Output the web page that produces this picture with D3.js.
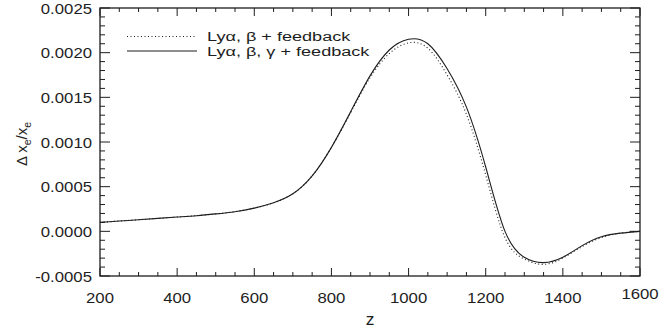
<!DOCTYPE html>
<html>
<head>
<meta charset="utf-8">
<script src="https://cdn.jsdelivr.net/npm/d3@7"></script>
<style>
  html, body { margin: 0; padding: 0; background: #fff; }
  svg { display: block; font-family: "Liberation Sans", Arial, Helvetica, sans-serif; }
</style>
</head>
<body>
<svg id="chart" width="660" height="333"></svg>
<script>
// ---- data ----
const zValues = [200, 250, 300, 350, 400, 450, 500, 550, 600, 650, 700, 750, 800, 850, 900, 950, 1000, 1050, 1100, 1150, 1200, 1250, 1300, 1350, 1400, 1450, 1500, 1550, 1600];
const seriesBeta = [0.00010, 0.000115, 0.00013, 0.000145, 0.00016, 0.000175, 0.000195, 0.00022, 0.00026, 0.00032, 0.00042, 0.00062, 0.00094, 0.00133, 0.00172, 0.00199, 0.00211, 0.00205, 0.00175, 0.00131, 0.00063, -0.00007, -0.00031, -0.00037, -0.00030, -0.00017, -0.00007, -0.00002, 0.0];
const seriesBetaGamma = [0.00010, 0.000115, 0.00013, 0.000145, 0.00016, 0.000175, 0.000195, 0.00022, 0.00026, 0.00032, 0.00042, 0.00062, 0.00094, 0.00134, 0.00174, 0.00203, 0.00215, 0.00210, 0.00182, 0.00139, 0.00072, 0.00000, -0.00029, -0.00035, -0.00029, -0.00016, -0.00006, -0.00002, 0.0];
const seriesNames = ["Ly\u03b1, \u03b2 + feedback", "Ly\u03b1, \u03b2, \u03b3 + feedback"];
const xTicks = [200, 400, 600, 800, 1000, 1200, 1400, 1600];
const yTicks = [-0.0005, 0.0000, 0.0005, 0.0010, 0.0015, 0.0020, 0.0025];

// ---- layout ----
const svg = d3.select("#chart");
const L = 100, R = 640, T = 8, B = 276;
const x = d3.scaleLinear().domain([200, 1600]).range([L, R]);
const y = d3.scaleLinear().domain([-0.0005, 0.0025]).range([B, T]);
const ink = "#1e1e1e";

// minor ticks
const xMinor = d3.range(200, 1601, 50).filter(v => v % 200 !== 0);
const yMinor = d3.range(-5, 26, 1).filter(v => v % 5 !== 0).map(v => v / 10000);

const axes = svg.append("g").attr("stroke", ink).attr("stroke-width", 1);
xTicks.forEach(v => {
  axes.append("line").attr("x1", x(v)).attr("x2", x(v)).attr("y1", B).attr("y2", B - 8);
  axes.append("line").attr("x1", x(v)).attr("x2", x(v)).attr("y1", T).attr("y2", T + 8);
});
xMinor.forEach(v => {
  axes.append("line").attr("x1", x(v)).attr("x2", x(v)).attr("y1", B).attr("y2", B - 4);
  axes.append("line").attr("x1", x(v)).attr("x2", x(v)).attr("y1", T).attr("y2", T + 4);
});
yTicks.forEach(v => {
  axes.append("line").attr("x1", L).attr("x2", L + 10).attr("y1", y(v)).attr("y2", y(v));
  axes.append("line").attr("x1", R).attr("x2", R - 10).attr("y1", y(v)).attr("y2", y(v));
});
yMinor.forEach(v => {
  axes.append("line").attr("x1", L).attr("x2", L + 5).attr("y1", y(v)).attr("y2", y(v));
  axes.append("line").attr("x1", R).attr("x2", R - 5).attr("y1", y(v)).attr("y2", y(v));
});
svg.append("rect").attr("x", L).attr("y", T).attr("width", R - L).attr("height", B - T)
  .attr("fill", "none").attr("stroke", ink).attr("stroke-width", 1.3);

// tick labels (slightly wide type, as in the reference)
svg.append("g").selectAll("text").data(xTicks).join("text")
  .attr("transform", (d, i) => `translate(${x(d)},${B + 27 - (i === xTicks.length - 1 ? 4 : 0)}) scale(1.08,1)`)
  .attr("text-anchor", "middle")
  .attr("font-size", 15.5).attr("fill", ink).text(d => d);
svg.append("g").selectAll("text").data(yTicks).join("text")
  .attr("transform", d => `translate(${L - 8},${y(d) + 5.5}) scale(1.08,1)`)
  .attr("text-anchor", "end")
  .attr("font-size", 15.5).attr("fill", ink).text(d => d3.format(".4f")(d).replace("\u2212", "-"));

// axis titles
svg.append("text").attr("transform", `translate(${(L + R) / 2},325) scale(1.08,1)`).attr("text-anchor", "middle")
  .attr("font-size", 16).attr("fill", ink).text("z");
const yl = svg.append("text").attr("transform", `translate(27,${(T + B) / 2 + 2}) rotate(-90)`)
  .attr("text-anchor", "middle").attr("font-size", 15).attr("fill", ink);
yl.append("tspan").text("\u0394 x");
yl.append("tspan").attr("font-size", 10.5).attr("dy", 4).text("e");
yl.append("tspan").attr("dy", -4).text("/x");
yl.append("tspan").attr("font-size", 10.5).attr("dy", 4).text("e");

// lines
const line = d3.line().x((d, i) => x(zValues[i])).y(d => y(d)).curve(d3.curveNatural);
svg.append("clipPath").attr("id", "clip").append("rect")
  .attr("x", L).attr("y", T).attr("width", R - L).attr("height", B - T);
const plot = svg.append("g").attr("clip-path", "url(#clip)");
plot.append("path").datum(seriesBeta).attr("d", line).attr("fill", "none")
  .attr("stroke", ink).attr("stroke-width", 1.1).attr("stroke-dasharray", "1,2.5");
plot.append("path").datum(seriesBetaGamma).attr("d", line).attr("fill", "none")
  .attr("stroke", ink).attr("stroke-width", 1.1);

// legend
const leg = svg.append("g");
[[36.5, "1,2.5"], [51, null]].forEach((d, i) => {
  leg.append("line").attr("x1", 127).attr("x2", 197).attr("y1", d[0]).attr("y2", d[0])
    .attr("stroke", ink).attr("stroke-width", 1.1).attr("stroke-dasharray", d[1]);
  leg.append("text").attr("transform", `translate(207,${d[0] + 4.5}) scale(1.34,1)`).attr("font-size", 13.5)
    .attr("fill", ink).text(seriesNames[i]);
});
</script>
</body>
</html>
